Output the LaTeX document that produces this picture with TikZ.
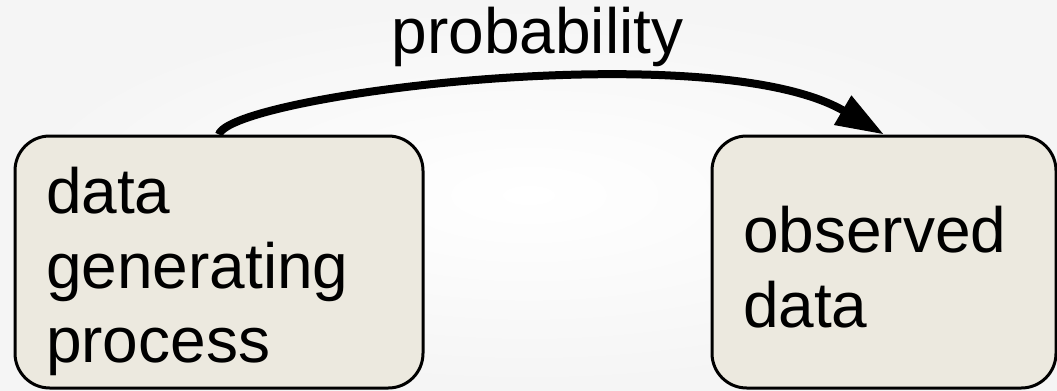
\documentclass[tikz,border=0pt]{standalone}
\usepackage{fontspec}
\setmainfont{Liberation Sans}
\usetikzlibrary{arrows.meta}
\definecolor{boxfill}{RGB}{236,233,223}
\tikzset{
  stagebox/.style={draw=black, line width=2.25pt, fill=boxfill, rounded corners=26pt,
    align=left, inner xsep=23.25pt, inner ysep=0pt,
    minimum height=189pt,
    font=\fontsize{48pt}{56pt}\selectfont},
  flowarrow/.style={line width=6pt, -{Triangle[length=36pt,width=24pt]}},
  arrowlabel/.style={font=\fontsize{48pt}{56pt}\selectfont, inner sep=0pt, anchor=base}
}
\begin{document}
\begin{tikzpicture}[x=0.75pt, y=0.75pt]
  \useasboundingbox (0,0) rectangle (1057,390);
  \shade[inner color=white, outer color=black!4] (0,0) rectangle (1057,390);
  \node[stagebox, minimum width=306pt, text width=259.5pt, text height=49.4pt] (dgp) at (219,128)
    {data\\generating\\process};
  \node[stagebox, minimum width=258pt, text width=211.5pt, text height=42pt] (obs) at (884,128)
    {observed\\data};
  \node[arrowlabel] (prob) at (537.5,336.5) {probability};
  \draw[flowarrow] (dgp.north) .. controls +(12,40) and +(-170,100) .. (obs.north);
\end{tikzpicture}
\end{document}
